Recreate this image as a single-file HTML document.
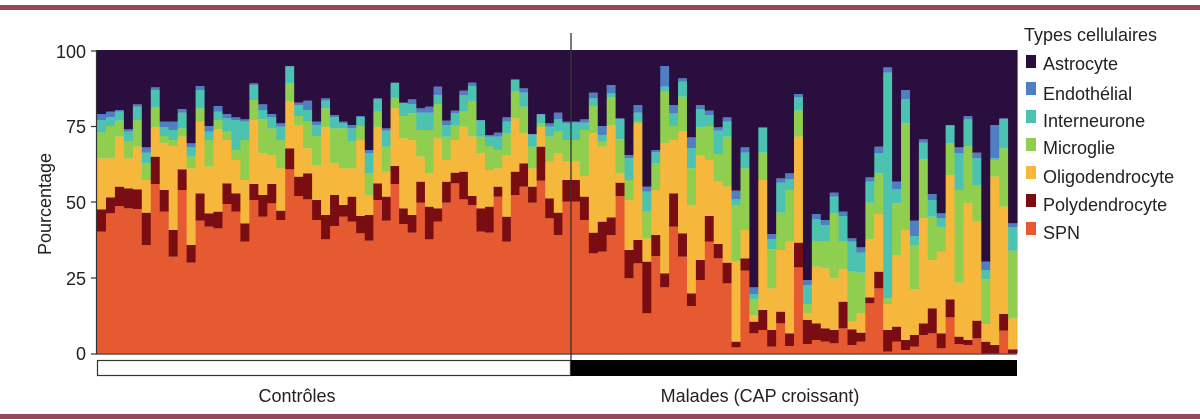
<!DOCTYPE html>
<html><head><meta charset="utf-8">
<style>
html,body{margin:0;padding:0;background:#fff;width:1200px;height:419px;overflow:hidden}
svg text{font-family:"Liberation Sans",sans-serif;fill:#222}
</style></head>
<body>
<svg id="s" width="1200" height="419" xmlns="http://www.w3.org/2000/svg">
<rect x="0" y="5" width="1200" height="5" fill="#94495a"/>
<rect x="0" y="414" width="1200" height="5" fill="#94495a"/>
<g id="bars"></g>
<line x1="96.5" y1="50" x2="96.5" y2="354" stroke="#333" stroke-width="1.2"/>
<line x1="96" y1="354" x2="1017" y2="354" stroke="#333" stroke-width="1.2"/>
<g stroke="#333" stroke-width="1.2">
<line x1="91" y1="51" x2="97" y2="51"/><line x1="91" y1="126.5" x2="97" y2="126.5"/>
<line x1="91" y1="202" x2="97" y2="202"/><line x1="91" y1="278" x2="97" y2="278"/>
<line x1="91" y1="354" x2="97" y2="354"/>
</g>
<g font-size="18" text-anchor="end">
<text x="86" y="58">100</text><text x="86" y="133">75</text><text x="86" y="209">50</text>
<text x="86" y="285">25</text><text x="86" y="360">0</text>
</g>
<text x="0" y="0" font-size="18" text-anchor="middle" transform="translate(51,204) rotate(-90)">Pourcentage</text>
<line x1="571" y1="33" x2="571" y2="370" stroke="#333" stroke-width="1.3"/>
<rect x="97.5" y="360.5" width="473" height="15" fill="#fff" stroke="#333" stroke-width="1.2"/>
<rect x="571" y="360" width="446" height="16" fill="#000"/>
<text x="297" y="402" font-size="18" text-anchor="middle">Contrôles</text>
<text x="760" y="402" font-size="18" text-anchor="middle">Malades (CAP croissant)</text>
<g font-size="18">
<text x="1024" y="41">Types cellulaires</text>
<rect x="1026" y="55" width="10" height="13" fill="#2a0f3e"/><text x="1043" y="70">Astrocyte</text>
<rect x="1026" y="82" width="10" height="13" fill="#4f7ec2"/><text x="1043" y="100">Endothélial</text>
<rect x="1026" y="110" width="10" height="13" fill="#4cc3b0"/><text x="1043" y="127">Interneurone</text>
<rect x="1026" y="138" width="10" height="13" fill="#8fce4f"/><text x="1043" y="154">Microglie</text>
<rect x="1026" y="166" width="10" height="13" fill="#f5b83d"/><text x="1043" y="183">Oligodendrocyte</text>
<rect x="1026" y="194" width="10" height="13" fill="#7a0d12"/><text x="1043" y="211">Polydendrocyte</text>
<rect x="1026" y="222" width="10" height="13" fill="#e55a30"/><text x="1043" y="239">SPN</text>
</g>
</svg>
<script>
var C1=[[575,508,355,278,240,222],[520,472,355,258,232,215],[498,440,290,242,215,210],[505,445,355,305,275,268],[507,448,320,240,200,193],[615,518,420,370,338,322],[432,350,262,203,150,142],[515,450,310,288,262,245],[650,570,318,300,270,245],[450,388,290,265,218,207],[668,615,385,350,322,310],[542,460,245,205,150,138],[560,520,380,300,275,258],[565,515,268,240,215,198],[492,430,300,275,235,222],[515,460,360,330,240,232],[605,550,420,300,245,238],[480,432,240,180,135,130],[530,465,340,238,210,193],[490,432,345,265,232,222],[540,512,385,300,260,250],[388,325,185,130,80,78],[468,410,255,228,195,188],[478,400,325,245,210,182],[540,480,375,288,255,245],[598,525,262,205,182,175],[558,465,370,265,232,225]];
var C2=[[530,495,385,265,250,245],[545,470,385,305,265,255],[580,528,300,258,232,228],[602,525,465,400,340,330],[480,430,262,215,178,175],[542,470,395,320,272,265],[432,378,205,175,130,128],[552,505,295,228,190,188],[578,525,300,220,192,178],[488,425,350,270,218,205],[598,500,400,270,218,200],[545,505,295,192,165,140],[488,425,360,290,255,242],[430,398,300,255,220,212],[478,395,260,215,165,152],[495,468,290,185,138,128],[575,505,340,290,242,240],[578,500,390,318,290,285],[470,440,385,330,290,278],[605,530,345,280,245,232],[465,395,235,155,120,118],[440,370,280,200,158,145],[488,440,385,320,284,282],[422,320,262,250,224,222],[535,475,365,290,260,250],[585,518,340,275,238,218],[485,420,365,300,250,245]];
var P=[[485,420,365,300,248,245],[540,470,408,270,248,238],[640,578,280,198,175,158],[635,545,320,305,285,258],[585,532,255,172,160,135],[468,428,400,298,237,235],[715,630,480,420,355,345],[670,600,250,245,218,195],[820,665,595,515,455,440],[648,585,450,370,337,330],[742,700,310,155,140,78],[560,460,300,258,220,195],[650,580,275,170,125,115],[798,760,495,385,325,292],[720,660,345,262,208,195],[605,528,360,258,225,212],[655,612,425,342,272,262],[730,668,440,290,245,232],[922,905,665,495,478,452],[692,655,570,385,338,322],[880,845,825,778,762,742],[870,810,420,338,264,262],[920,870,745,628,598,582],[850,815,630,518,428,415],[918,880,605,450,418,400],[682,608,290,212,172,162],[912,840,820,792,735,720],[900,850,680,605,538,522],[905,865,685,605,555,540],[910,870,715,520,470,458],[865,785,688,605,528,515],[915,868,845,695,605,595],[905,878,820,698,638,622],[790,772,598,488,425,412],[745,695,522,400,340,320],[935,870,792,775,98,82],[905,860,645,490,448,425],[930,900,570,250,178,150],[920,885,748,615,588,542],[885,850,535,358,308,298],[880,805,660,530,480,462],[925,880,635,562,535,520],[832,778,405,310,257,255],[912,890,728,450,340,322],[915,900,490,318,238,228],[895,842,545,435,355,338],[940,905,852,718,690,665],[940,915,410,360,355,255],[872,822,500,325,237,235],[940,928,835,632,562,550]];
var col=["#e55a30","#7a0d12","#f5b83d","#8fce4f","#4cc3b0","#4f7ec2","#2a0f3e"];
function Y(z){return 40+z/3;}
var h="";
function draw(arr,x0,w){
 for(var i=0;i<arr.length;i++){
  var x=x0+i*w, d=arr[i];
  var b=[940].concat(d).concat([30]);
  for(var k=0;k<7;k++){
   var y1=Y(b[k+1]), y2=Y(b[k]);
   if(y2-y1<=0)continue;
   h+='<rect x="'+x.toFixed(2)+'" y="'+y1.toFixed(2)+'" width="'+(w+0.6).toFixed(2)+'" height="'+(y2-y1).toFixed(2)+'" fill="'+col[k]+'"/>';
  }
 }
}
draw(C1,97,242/27);
draw(C2,339,232/27);
draw(P,571,446/50);
document.getElementById("bars").innerHTML=h;
</script>
</body></html>
